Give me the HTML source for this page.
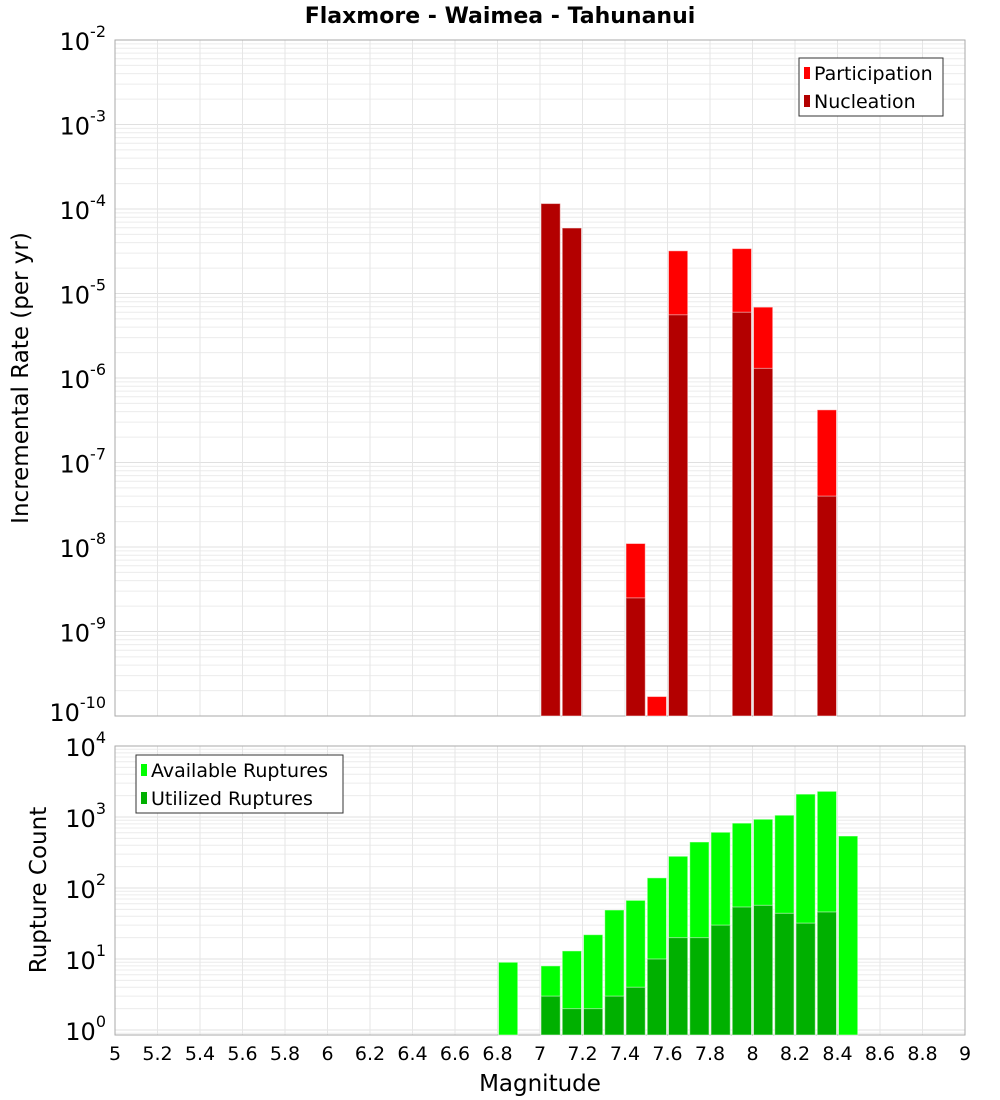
<!DOCTYPE html>
<html><head><meta charset="utf-8"><style>
body{margin:0;background:#fff;}
svg{display:block;font-family:"DejaVu Sans","Liberation Sans",sans-serif;}
</style></head><body>
<svg id="chart" width="1000" height="1100" viewBox="0 0 1000 1100" xmlns="http://www.w3.org/2000/svg">
<text x="500" y="23" text-anchor="middle" font-size="22" font-weight="bold">Flaxmore - Waimea - Tahunanui</text>
<g id="top"></g><g id="bot"></g>
</svg>
<script>
const binCenters=[6.85,7.05,7.15,7.25,7.35,7.45,7.55,7.65,7.75,7.85,7.95,8.05,8.15,8.25,8.35,8.45];
const participation=[0,1.16e-4,5.96e-5,0,0,1.1e-8,1.7e-10,3.2e-5,0,0,3.4e-5,6.9e-6,0,0,4.2e-7,0];
const nucleation=[0,1.16e-4,5.96e-5,0,0,2.5e-9,0,5.6e-6,0,0,6.0e-6,1.3e-6,0,0,4.0e-8,0];
const available=[9,8,13,22,49,67,139,280,445,610,820,930,1060,2100,2300,540];
const utilized=[0,3,2,2,3,4,10,20,20,30,54,57,44,32,46,0];
const xTicks=[5,5.2,5.4,5.6,5.8,6,6.2,6.4,6.6,6.8,7,7.2,7.4,7.6,7.8,8,8.2,8.4,8.6,8.8,9];
const topExps=[-10,-9,-8,-7,-6,-5,-4,-3,-2];
const botExps=[0,1,2,3,4];

const NS="http://www.w3.org/2000/svg";
const L=115,R=965;
const xs=m=>L+(m-5)/4*(R-L);
function mk(p,tag,a){const e=document.createElementNS(NS,tag);for(const k in a)e.setAttribute(k,a[k]);p.appendChild(e);return e;}
function panel(g,top,bottom,yMinE,yMaxE,dispMin){
  const ys=v=>bottom-(Math.log10(v)-dispMin)/(yMaxE-dispMin)*(bottom-top);
  // grid
  for(let e=Math.floor(dispMin);e<yMaxE;e++){for(let k=1;k<10;k++){const v=k*Math.pow(10,e);const y=ys(v);if(y<top||y>bottom)continue;
    const l=mk(g,'line',{x1:L,x2:R,y1:y,y2:y,stroke:k==1?'#e0e0e0':'#ececec','stroke-width':1});
    }}
  xTicks.forEach(t=>{const x=xs(t);const l=mk(g,'line',{x1:x,x2:x,y1:top,y2:bottom,stroke:'#e6e6e6'});
    });
  const fr=mk(g,'rect',{x:L,y:top,width:R-L,height:bottom-top,fill:'none',stroke:'#aaa'});
  
  return ys;
}
function yLabels(g,exps,ys,top,bottom){
  exps.forEach(e=>{let y=ys(Math.pow(10,e));const t=mk(g,'text',{x:106,y:Math.min(Math.max(y+10,top+10),bottom+5),'text-anchor':'end','font-size':24});
    
    t.appendChild(document.createTextNode('10'));
    const s=document.createElementNS(NS,'tspan');s.setAttribute('dy','-13');s.setAttribute('font-size','16');s.textContent=String(e);t.appendChild(s);
    const s2=document.createElementNS(NS,'tspan');s2.setAttribute('dy','13');s2.setAttribute('font-size','16');s2.textContent='';t.appendChild(s2);
  });
}
function bars(g,vals,ys,bottom,color,name){
  vals.forEach((v,i)=>{if(!v)return;const x0=xs(binCenters[i]-0.05)+1,x1=xs(binCenters[i]+0.05)-1;const y=ys(v);
    const r=mk(g,'rect',{x:x0,y:y,width:x1-x0,height:bottom-y,fill:color,stroke:'#fff','stroke-opacity':0.5,'stroke-width':1});
    });
}
function legend(g,x,y,w,items){
  const b=mk(g,'rect',{x:x,y:y,width:w,height:58,fill:'#fff',stroke:'#333'});
  
  items.forEach((it,i)=>{const cy=y+15+i*28;
    const s=mk(g,'rect',{x:x+5,y:cy-6,width:6,height:12,fill:it[1]});
    
    const t=mk(g,'text',{x:x+15,y:cy+7,'font-size':19});t.textContent=it[0];
    });
}
// top panel
const gt=document.getElementById('top');
const ysT=panel(gt,40,716,-10,-2,-10);
bars(gt,participation,ysT,716,'#ff0000','bar-participation');
bars(gt,nucleation,ysT,716,'#b30000','bar-nucleation');
yLabels(gt,topExps,ysT,40,716);
legend(gt,799,58,144,[['Participation','#ff0000'],['Nucleation','#b30000']]);
const yt=mk(gt,'text',{x:0,y:0,transform:'translate(28,378) rotate(-90)','text-anchor':'middle','font-size':23});
yt.textContent='Incremental Rate (per yr)';
// bottom panel: 10^0 at 1030, 10^4 at 746
const gb=document.getElementById('bot');
const dec=(1030-746)/4, dmin=-(1035-1030)/dec;
const ysB=panel(gb,746,1035,0,4,dmin);
bars(gb,available,ysB,1035,'#00ff00','bar-available');
bars(gb,utilized,ysB,1035,'#00b000','bar-utilized');
yLabels(gb,botExps,ysB,746,1035);
legend(gb,136,755,207,[['Available Ruptures','#00ff00'],['Utilized Ruptures','#00b000']]);
const yb=mk(gb,'text',{x:0,y:0,transform:'translate(46,890) rotate(-90)','text-anchor':'middle','font-size':23});
yb.textContent='Rupture Count';
xTicks.forEach(t=>{const tx=mk(gb,'text',{x:xs(t),y:1060,'text-anchor':'middle','font-size':19});tx.textContent=String(t);
  });
const xt=mk(gb,'text',{x:540,y:1091,'text-anchor':'middle','font-size':23});xt.textContent='Magnitude';

</script>
</body></html>
